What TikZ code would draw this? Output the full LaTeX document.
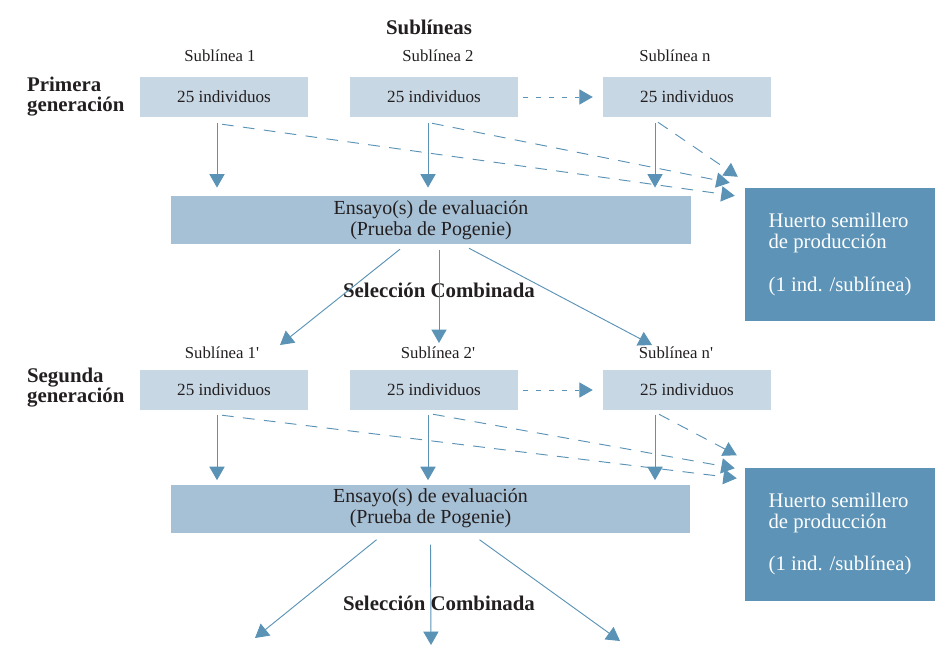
\documentclass[tikz,border=0pt]{standalone}
\usepackage{fontspec}
\setmainfont{Liberation Serif}
\usetikzlibrary{arrows.meta,positioning,calc}
\definecolor{boxlight}{HTML}{C7D7E4}
\definecolor{boxmid}{HTML}{A6C0D5}
\definecolor{boxdark}{HTML}{5C93B6}
\definecolor{linecol}{HTML}{5B93B6}
\definecolor{txtcol}{HTML}{231F20}

\begin{document}
\begin{tikzpicture}[
    x=0.03cm, y=-0.03cm,
    subline/.style={rectangle, fill=boxlight, text=txtcol, minimum width=5.04cm, minimum height=1.2cm, font=\fontsize{14.6}{16}\selectfont},
    ensayo/.style={rectangle, fill=boxmid, text=txtcol, minimum width=15.57cm, minimum height=1.44cm, align=center, font=\fontsize{17}{18}\selectfont},
    huerto/.style={rectangle, fill=boxdark, text=white, minimum width=5.7cm, minimum height=3.99cm, align=left, font=\fontsize{17.7}{18}\selectfont},
    sublabel/.style={text=txtcol, font=\fontsize{14.3}{16}\selectfont},
    titulo/.style={text=txtcol, align=left, font=\bfseries\fontsize{17.8}{17}\selectfont},
    arrow/.style={-{Triangle[length=11.5pt,width=13pt]}, draw=linecol, line width=0.8pt},
    dasharrow/.style={arrow, dash pattern=on 10pt off 8pt},
    dotarrow/.style={arrow, dash pattern=on 4pt off 7pt}
]
    \useasboundingbox (0,0) rectangle (935,645);

    % primera generacion
    \node[titulo] (sublineas) at (429,27) {Sublíneas};
    \node[titulo, anchor=west] (gen1) at (23,97) {Primera\\generación};

    \node[subline] (box1) at (224,97) {25 individuos};
    \node[subline] (box2) at (434,97) {25 individuos};
    \node[subline] (boxn) at (687,97) {25 individuos};
    \node[sublabel] (lab1) at (220,56) {Sublínea 1};
    \node[sublabel] (lab2) at (438,56) {Sublínea 2};
    \node[sublabel] (labn) at (675,56) {Sublínea n};

    \node[ensayo] (ens1) at (431,220) {Ensayo(s) de evaluación\\(Prueba de Pogenie)};
    \node[huerto] (huerto1) at (840,254.5) {Huerto semillero\\de producción\\[18pt](1 ind. /sublínea)};
    \node[titulo] (selec1) at (439,290) {Selección Combinada};

    \coordinate (h1a) at ($(huerto1.north west)+(-7,-11)$);
    \coordinate (h1b) at ($(huerto1.north west)+(-15,-5)$);
    \coordinate (h1c) at ($(huerto1.north west)+(-10,8)$);

    \draw[dotarrow] ($(box2.east)+(5,0)$) -- ($(boxn.west)+(-10,0)$);
    \draw[arrow, shorten <=5pt, shorten >=7pt] ($(box1.south)+(-7,0)$) -- ($(box1.south |- ens1.north)+(-7,0)$);
    \draw[arrow, shorten <=5pt, shorten >=7pt] ($(box2.south)+(-6,0)$) -- ($(box2.south |- ens1.north)+(-6,0)$);
    \draw[arrow, shorten <=5pt, shorten >=7pt] ($(boxn.south)+(-32,0)$) -- ($(boxn.south |- ens1.north)+(-32,0)$);
    \draw[dasharrow] ($(boxn.south)+(-29,5)$) -- (h1a);
    \draw[dasharrow] ($(box2.south)+(-2,6)$) -- (h1b);
    \draw[dasharrow] ($(box1.south)+(-2,7)$) -- (h1c);

    % segunda generacion
    \node[titulo, anchor=west] (gen2) at (23,388) {Segunda\\generación};

    \node[subline] (box1b) at (224,390) {25 individuos};
    \node[subline] (box2b) at (434,390) {25 individuos};
    \node[subline] (boxnb) at (687,390) {25 individuos};
    \node[sublabel] (lab1b) at (222,353) {Sublínea 1\textquotesingle};
    \node[sublabel] (lab2b) at (438,353) {Sublínea 2\textquotesingle};
    \node[sublabel] (labnb) at (676,353) {Sublínea n\textquotesingle};

    \node[ensayo] (ens2) at (430.5,508.5) {Ensayo(s) de evaluación\\(Prueba de Pogenie)};
    \node[huerto] (huerto2) at (840,534) {Huerto semillero\\de producción\\[18pt](1 ind. /sublínea)};
    \node[titulo] (selec2) at (439,603) {Selección Combinada};

    \coordinate (h2a) at ($(huerto2.north west)+(-8,-12)$);
    \coordinate (h2b) at ($(huerto2.north west)+(-10,1)$);
    \coordinate (h2c) at ($(huerto2.north west)+(-8,11)$);

    % seleccion combinada
    \coordinate (s1a) at (280,345);
    \coordinate (s1b) at (439,343);
    \coordinate (s1c) at (652,345);
    \draw[arrow] ($(ens1.south)+(-31,5)$) -- (s1a);
    \draw[arrow] ($(ens1.south)+(8,6)$) -- (s1b);
    \draw[arrow] ($(ens1.south)+(38,4)$) -- (s1c);

    \draw[dotarrow] ($(box2b.east)+(5,0)$) -- ($(boxnb.west)+(-10,0)$);
    \draw[arrow, shorten <=4pt, shorten >=3.5pt] ($(box1b.south)+(-7,0)$) -- ($(box1b.south |- ens2.north)+(-7,0)$);
    \draw[arrow, shorten <=4pt, shorten >=3.5pt] ($(box2b.south)+(-6,0)$) -- ($(box2b.south |- ens2.north)+(-6,0)$);
    \draw[arrow, shorten <=4pt, shorten >=3.5pt] ($(boxnb.south)+(-32,0)$) -- ($(boxnb.south |- ens2.north)+(-32,0)$);
    \draw[dasharrow] ($(boxnb.south)+(-28,4)$) -- (h2a);
    \draw[dasharrow] ($(box2b.south)+(-1,4)$) -- (h2b);
    \draw[dasharrow] ($(box1b.south)+(-2,5)$) -- (h2c);

    \coordinate (s2a) at (255,638);
    \coordinate (s2b) at (431,645);
    \coordinate (s2c) at (620,641);
    \draw[arrow] ($(ens2.south)+(-54,7)$) -- (s2a);
    \draw[arrow] ($(ens2.south)+(0,12)$) -- (s2b);
    \draw[arrow] ($(ens2.south)+(49,7)$) -- (s2c);
\end{tikzpicture}
\end{document}
